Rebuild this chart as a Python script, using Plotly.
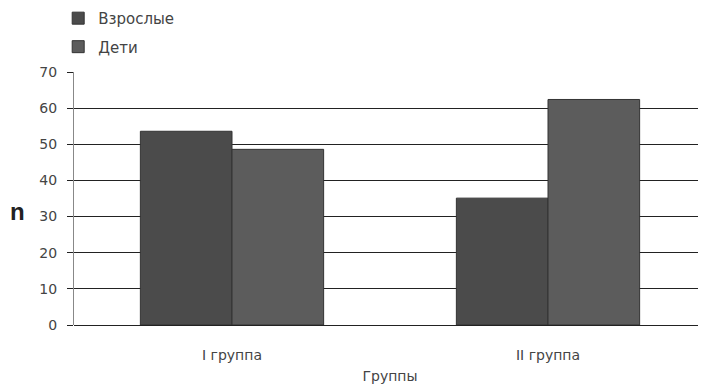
import plotly.graph_objects as go

categories = ["I группа", "II группа"]
adults = [53.6, 35.1]
children = [48.6, 62.4]
series_names = ["Взрослые", "Дети"]
y_ticks = [0, 10, 20, 30, 40, 50, 60, 70]

font_family = "DejaVu Sans, Liberation Sans, Arial, sans-serif"
txt = "#444444"

fig = go.Figure()
fig.add_trace(go.Bar(x=categories, y=adults, name=series_names[0], legendgroup="a",
                     marker=dict(color="#4b4b4b", line=dict(color="#333333", width=1))))
fig.add_trace(go.Bar(x=categories, y=children, name=series_names[1], legendgroup="b",
                     marker=dict(color="#5c5c5c", line=dict(color="#333333", width=1))))

fig.update_layout(
    width=698, height=376,
    margin=dict(l=66, r=0, t=64, b=59, autoexpand=False),
    paper_bgcolor="white", plot_bgcolor="white",
    barmode="group", bargap=0.42, bargroupgap=0,
    font=dict(family=font_family, size=14, color=txt),
    showlegend=True,
    legend=dict(x=-0.025, y=1.277, xanchor="left", yanchor="top", yref="paper",
                orientation="v", tracegroupgap=6,
                font=dict(size=15, color=txt), bgcolor="rgba(0,0,0,0)"),
    xaxis=dict(range=[-0.5, 1.5], showgrid=False, showline=False, ticks="", automargin=False,
               ticklabelstandoff=20,
               title=dict(text="Группы", font=dict(size=14, color=txt), standoff=11),
               tickfont=dict(size=14, color=txt)),
    yaxis=dict(range=[0, 70], tickvals=y_ticks, showgrid=True, gridcolor="#222222", gridwidth=1,
               zeroline=True, zerolinecolor="#222222", zerolinewidth=1, automargin=False,
               showline=True, linecolor="#888888", linewidth=1,
               ticks="outside", ticklen=6, tickcolor="#222222", ticklabelstandoff=7,
               tickfont=dict(size=14, color=txt)),
    annotations=[dict(text="<b>n</b>", xref="paper", yref="paper", x=-0.0895, y=0.448,
                      xanchor="center", yanchor="middle", showarrow=False,
                      font=dict(family="Liberation Sans, Arial, sans-serif", size=24, color="#222222"))],
)
fig.write_html("out.html")
